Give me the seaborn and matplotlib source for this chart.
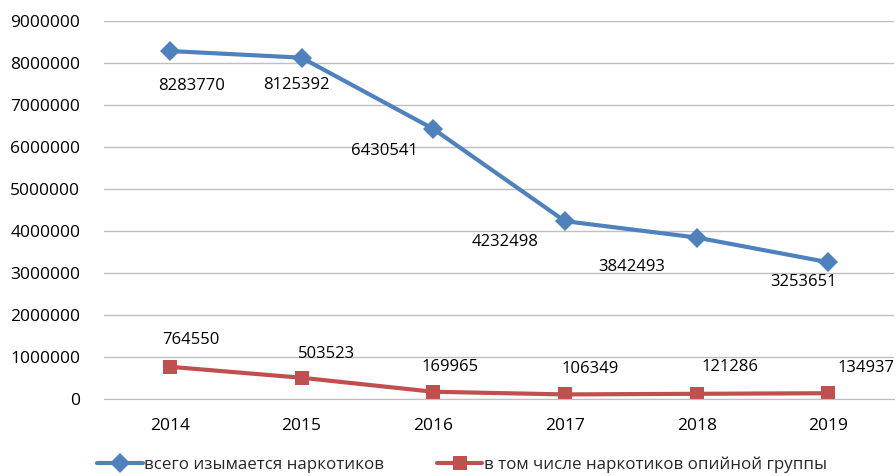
import seaborn as sns
import matplotlib.pyplot as plt
import pandas as pd

years = ['2014', '2015', '2016', '2017', '2018', '2019']
total_seized = [8283770, 8125392, 6430541, 4232498, 3842493, 3253651]
opium_group = [764550, 503523, 169965, 106349, 121286, 134937]
series_names = ['всего изымается наркотиков', 'в том числе наркотиков опийной группы']

# label offsets (points) to mimic the manually placed Excel labels
total_offsets = [(16, -25), (-4, -20), (-35, -16), (-43, -15), (-47, -21), (-18, -14)]
opium_offsets = [(15, 19), (18, 17), (12, 18), (18, 18), (24, 19), (27, 18)]

df = pd.DataFrame({
    'year': years * 2,
    'value': total_seized + opium_group,
    'series': [series_names[0]] * 6 + [series_names[1]] * 6,
})

sns.set_style('white')
plt.rcParams['font.family'] = ['Open Sans', 'DejaVu Sans']

fig = plt.figure(figsize=(8.96, 4.76), dpi=100)
ax = fig.add_axes([0.116, 0.162, 0.882, 0.794])

palette = {series_names[0]: '#4F81BD', series_names[1]: '#C0504D'}
sns.lineplot(data=df, x='year', y='value', hue='series', style='series',
             markers={series_names[0]: 'D', series_names[1]: 's'},
             dashes=False, palette=palette, linewidth=3, markersize=10.5,
             markeredgewidth=0, ax=ax)

for i, v in enumerate(total_seized):
    ax.annotate(str(v), (i, v), xytext=total_offsets[i], textcoords='offset points',
                ha='center', va='center', fontsize=12, color='black')
for i, v in enumerate(opium_group):
    ax.annotate(str(v), (i, v), xytext=opium_offsets[i], textcoords='offset points',
                ha='center', va='center', fontsize=12, color='black')

ax.set_xlim(-0.5, 5.5)
ax.set_ylim(0, 9000000)
ax.set_yticks(range(0, 9000001, 1000000))
ax.set_yticklabels([str(t) for t in range(0, 9000001, 1000000)])
ax.yaxis.grid(True, color='#BFBFBF', linewidth=1)
ax.set_axisbelow(True)
for s in ax.spines.values():
    s.set_visible(False)
ax.spines['bottom'].set_visible(True)
ax.spines['bottom'].set_color('#BFBFBF')
ax.tick_params(axis='both', length=0, labelsize=12.5, colors='black')
ax.tick_params(axis='x', pad=14)
ax.tick_params(axis='y', pad=17)
ax.set_xlabel('')
ax.set_ylabel('')

handles, labels = ax.get_legend_handles_labels()
ax.get_legend().remove()
fig.legend(handles, labels, loc='center left', bbox_to_anchor=(0.108, 0.024), ncol=2,
           frameon=False, fontsize=12.2, handlelength=2.7, handletextpad=0.1,
           columnspacing=3.1, borderaxespad=0, borderpad=0)

fig.savefig('out.png', dpi=100)
